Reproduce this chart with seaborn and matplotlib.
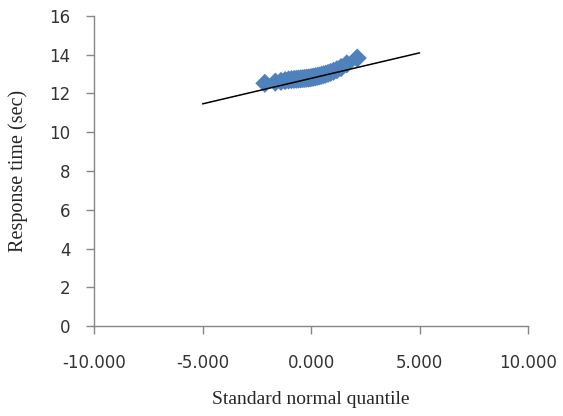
import numpy as np
import pandas as pd
import seaborn as sns
import matplotlib.pyplot as plt
from matplotlib.ticker import FormatStrFormatter

# standard normal quantiles (n = 30) and sorted response times
quantiles = [-2.128, -1.645, -1.383, -1.192, -1.036, -0.903, -0.783, -0.674,
             -0.573, -0.477, -0.385, -0.297, -0.210, -0.126, -0.042,
             0.042, 0.126, 0.210, 0.297, 0.385, 0.477, 0.573, 0.674,
             0.783, 0.903, 1.036, 1.192, 1.383, 1.645, 2.128]
response = [12.52, 12.58, 12.62, 12.66, 12.69, 12.71, 12.72, 12.73,
            12.74, 12.75, 12.76, 12.77, 12.78, 12.79, 12.80,
            12.82, 12.84, 12.86, 12.88, 12.90, 12.93, 12.96, 12.99,
            13.03, 13.08, 13.14, 13.22, 13.33, 13.52, 13.82]

# reference line
line_x = [-5, 5]
line_y = [11.46, 14.09]

x_ticks = [-10, -5, 0, 5, 10]
y_ticks = [0, 2, 4, 6, 8, 10, 12, 14, 16]

sns.set_style("white")

df = pd.DataFrame({"q": quantiles, "t": response})
line_df = pd.DataFrame({"x": line_x, "y": line_y})

fig = plt.figure(figsize=(5.63, 4.16), dpi=100)
ax = fig.add_axes([0.167, 0.216, 0.771, 0.746])

sns.scatterplot(data=df, x="q", y="t", marker="D", s=95, color="#4F81BD",
                edgecolor="none", ax=ax, zorder=2)
sns.lineplot(data=line_df, x="x", y="y", color="black", linewidth=1.1,
             ax=ax, zorder=3)

ax.set_xlim(-10, 10)
ax.set_ylim(0, 16)
ax.set_xticks(x_ticks)
ax.set_yticks(y_ticks)
ax.xaxis.set_major_formatter(FormatStrFormatter("%.3f"))

for side in ["top", "right"]:
    ax.spines[side].set_visible(False)
for side in ["left", "bottom"]:
    ax.spines[side].set_color("#868686")
    ax.spines[side].set_linewidth(1)

ax.tick_params(axis="both", direction="out", length=6, width=1,
               color="#868686", labelsize=12, labelcolor="#333333",
               bottom=True, left=True)
ax.tick_params(axis="x", pad=14)
ax.tick_params(axis="y", pad=11)
for lbl in ax.get_xticklabels() + ax.get_yticklabels():
    lbl.set_family("DejaVu Sans")

ax.set_xlabel("Standard normal quantile", family="Liberation Serif",
              fontsize=14, labelpad=14)
ax.set_ylabel("Response time (sec)", family="Liberation Serif",
              fontsize=14.5, labelpad=15)

fig.savefig("out.png", dpi=100)
